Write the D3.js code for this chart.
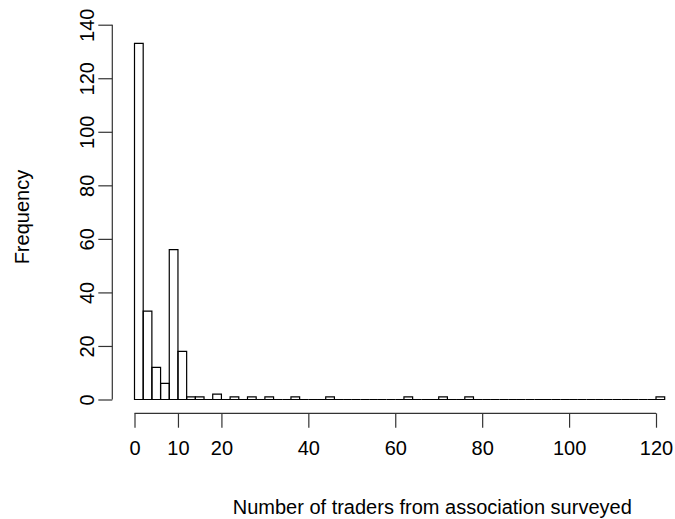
<!DOCTYPE html>
<html>
<head>
<meta charset="utf-8">
<script src="https://cdn.jsdelivr.net/npm/d3@7"></script>
<style>
  body { margin: 0; background: #fff; }
  svg { display: block; }
  text { font-family: "Liberation Sans", Arial, Helvetica, sans-serif; fill: #000; }
</style>
</head>
<body>
<div id="chart"></div>
<script>
// histogram bins of width 2 (left edges) and their counts
let binStart = d3.range(0, 122, 2);
let binCounts = [133, 33, 12, 6, 56, 18, 1, 1, 0, 2,
                 0, 1, 0, 1, 0, 1, 0, 0, 1, 0,
                 0, 0, 1, 0, 0, 0, 0, 0, 0, 0,
                 0, 1, 0, 0, 0, 1, 0, 0, 1, 0,
                 0, 0, 0, 0, 0, 0, 0, 0, 0, 0,
                 0, 0, 0, 0, 0, 0, 0, 0, 0, 0,
                 1];
let binWidth = 2;

let xTicks = [0, 10, 20, 40, 60, 80, 100, 120];
let yTicks = [0, 20, 40, 60, 80, 100, 120, 140];

let xTitle = "Number of traders from association surveyed",
    yTitle = "Frequency";

let width = 675, height = 519;
let fontSize = 20;

let svg = d3.select("#chart").append("svg")
    .attr("width", width)
    .attr("height", height);

let x = d3.scaleLinear().domain([0, 120]).range([134.5, 656]);
let y = d3.scaleLinear().domain([0, 140]).range([399.5, 24.7]);

let bins = binStart.map(function(d, i) {
    return {x0: d, x1: d + binWidth, count: binCounts[i]};
});

// bars (zero counts still leave a flat line, like R)
svg.append("g")
    .selectAll("path")
    .data(bins)
    .enter().append("path")
    .attr("d", function(d) {
        let x0 = x(d.x0), x1 = x(d.x1), y0 = y(0), y1 = y(d.count);
        return "M" + x0 + "," + y0 + "V" + y1 + "H" + x1 + "V" + y0 + "Z";
    })
    .attr("fill", "none")
    .attr("stroke", "#000")
    .attr("stroke-width", 1.2);

// x axis
let xAxis = d3.axisBottom(x)
    .tickValues(xTicks)
    .tickSize(14.4)
    .tickPadding(13)
    .tickSizeOuter(0);

let gx = svg.append("g")
    .attr("transform", "translate(0,413.3)")
    .call(xAxis);
gx.select(".domain").attr("d", "M" + x(0) + ",0H" + x(120));

// y axis
let yAxis = d3.axisLeft(y)
    .tickValues(yTicks)
    .tickSize(14)
    .tickPadding(10)
    .tickSizeOuter(0);

let gy = svg.append("g")
    .attr("transform", "translate(112.3,0)")
    .call(yAxis);
gy.select(".domain").attr("d", "M0," + y(0) + "V" + y(140));

svg.selectAll(".domain, .tick line")
    .attr("stroke", "#333")
    .attr("stroke-width", 1.2);

gx.selectAll(".tick text")
    .style("font-size", fontSize + "px")
    .style("font-family", null);

gy.selectAll(".tick text")
    .style("font-size", fontSize + "px")
    .style("font-family", null)
    .attr("text-anchor", "middle")
    .attr("dy", null)
    .attr("x", null)
    .attr("transform", "translate(-18,0) rotate(-90)");

// axis titles
svg.append("text")
    .attr("x", (x(0) + x(120)) / 2 + 37)
    .attr("y", 514)
    .attr("text-anchor", "middle")
    .style("font-size", fontSize + "px")
    .text(xTitle);

svg.append("text")
    .attr("transform", "translate(29," + ((y(0) + y(140)) / 2 + 5) + ") rotate(-90)")
    .attr("text-anchor", "middle")
    .style("font-size", fontSize + "px")
    .text(yTitle);
</script>
</body>
</html>
